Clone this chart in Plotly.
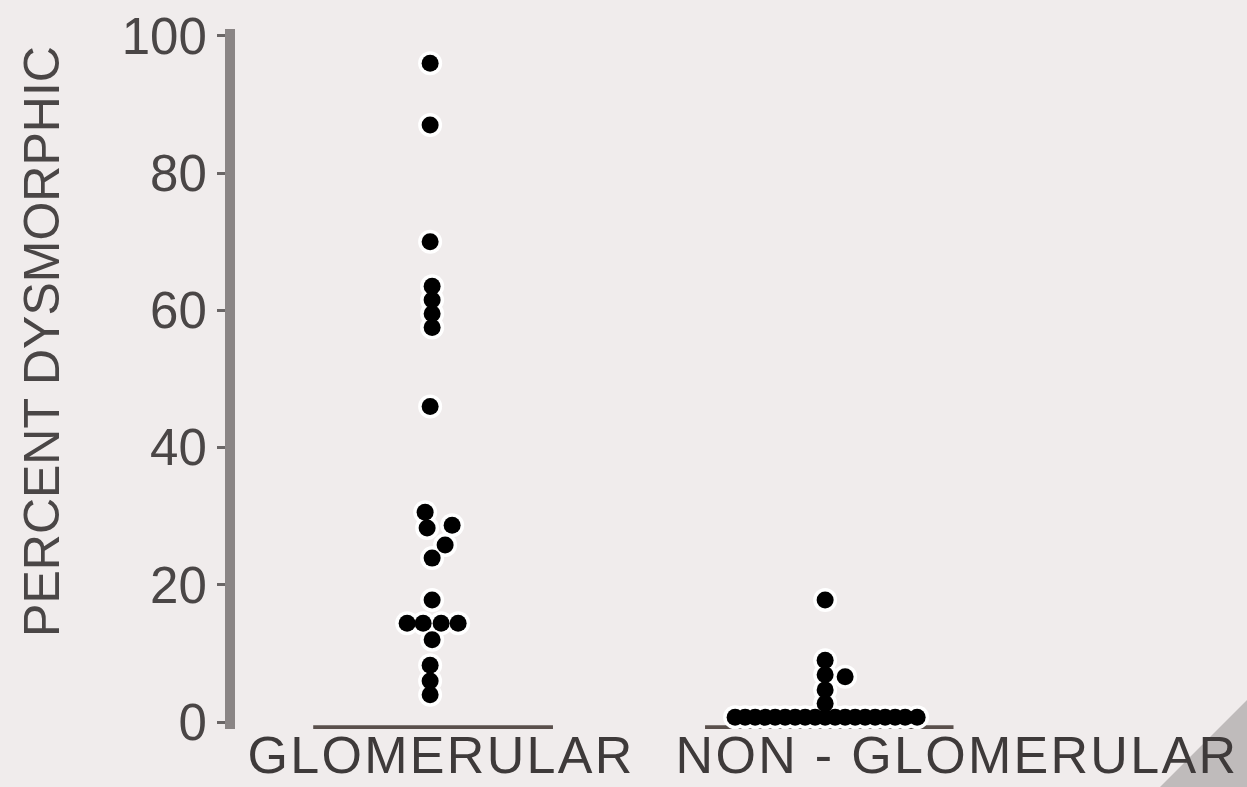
import plotly.graph_objects as go

# ---- data ----
categories = ["GLOMERULAR", "NON-GLOMERULAR"]
category_labels = ["GLOMERULAR", "NON - GLOMERULAR"]
glom_values = [96, 87, 70, 63.5, 61.5, 59.5, 57.5, 46, 30.6, 28.3, 28.7, 25.8, 23.9,
               17.8, 14.4, 14.4, 14.4, 14.4, 12.0, 8.3, 6.0, 4.0]
glom_jitter = [0, 0, 0, 2, 2, 2, 2, 0, -5, -3, 22, 15, 2,
               2, -23, -7, 11, 28, 2, 0, 0, 0]
nonglom_values = [17.8, 9.0, 6.9, 6.6, 4.7, 2.7] + [0.7] * 19
nonglom_jitter = [0, 0, 0, 20, 0, 0] + [-90, -80, -70, -60, -50, -40, -30, -20, -10, 0,
                                         10, 20, 30, 40, 50, 60, 70, 80, 92]
y_ticks = [0, 20, 40, 60, 80, 100]

PX = 395.0  # jitter units (pixels per category step)
cat_pos = {"GLOMERULAR": 1.0, "NON-GLOMERULAR": 2.0}

BG = "#F0ECEC"
FONT = "Liberation Sans, Arial, sans-serif"

fig = go.Figure()
groups = [(categories[0], glom_values, glom_jitter), (categories[1], nonglom_values, nonglom_jitter)]
# white halo layer first, black dots on top (so touching dots merge like the scan)
for name, vals, jit in groups:
    xs = [cat_pos[name] + j / PX for j in jit]
    fig.add_trace(go.Scatter(x=xs, y=vals, mode="markers",
                             marker=dict(size=24, color="white", line=dict(width=0)),
                             showlegend=False, hoverinfo="skip"))
for name, vals, jit in groups:
    xs = [cat_pos[name] + j / PX for j in jit]
    fig.add_trace(go.Scatter(x=xs, y=vals, mode="markers", name=name,
                             marker=dict(size=17, color="black", line=dict(width=0)),
                             showlegend=False, hoverinfo="y"))

# category baselines
fig.add_shape(type="line", xref="x", yref="y", x0=0.704, x1=1.311, y0=-0.8, y1=-0.8,
              line=dict(color="#5a504c", width=5), layer="below")
fig.add_shape(type="line", xref="x", yref="y", x0=1.696, x1=2.325, y0=-0.8, y1=-0.8,
              line=dict(color="#5a504c", width=5), layer="below")
# grey scan corner in the bottom-right of the reference
fig.add_shape(type="path", xref="paper", yref="paper",
              path="M 1 0.0414 L 0.914 -0.0829 L 1 -0.0829 Z",
              fillcolor="#bfbbbb", line=dict(width=0), layer="below")

label_font = dict(family=FONT, size=52, color="#3e3a3a")
fig.add_annotation(x=1.028, y=-0.037, xref="x", yref="paper", text=category_labels[0],
                   showarrow=False, font=label_font, xanchor="center", yanchor="middle")
fig.add_annotation(x=2.335, y=-0.037, xref="x", yref="paper", text=category_labels[1],
                   showarrow=False, font=label_font, xanchor="center", yanchor="middle")
fig.add_annotation(x=-0.1907, y=0.553, xref="paper", yref="paper", text="PERCENT DYSMORPHIC",
                   textangle=-90, showarrow=False,
                   font=dict(family=FONT, size=50, color="#4a4646"),
                   xanchor="center", yanchor="middle")

fig.update_layout(
    width=1247, height=787,
    margin=dict(l=235, r=0, t=29, b=58),
    paper_bgcolor=BG, plot_bgcolor=BG,
    xaxis=dict(range=[0.506, 3.068], visible=False, showgrid=False, zeroline=False),
    yaxis=dict(range=[-1.0, 101], tickvals=y_ticks, ticktext=[str(v) for v in y_ticks],
               showgrid=False, zeroline=False, showline=True, linecolor="#8a8585", linewidth=10,
               ticks="outside", ticklen=8, tickwidth=3, tickcolor="#6a6666",
               tickfont=dict(family=FONT, size=51, color="#4a4646")),
)

post = """
document.body.style.margin='0';
document.body.style.background='%s';
document.querySelectorAll('.annotation-text').forEach(function(t){
  if (t.textContent.indexOf('GLOMERULAR') >= 0) { t.style.letterSpacing = '2.3px'; }
});
""" % BG

fig.write_html("out.html", config={"displayModeBar": False}, post_script=post)
